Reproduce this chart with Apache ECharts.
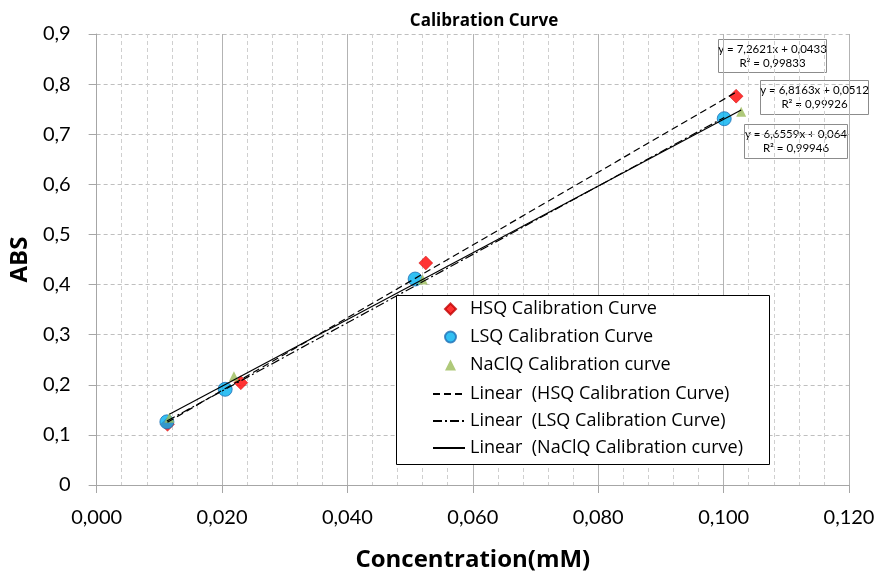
<!DOCTYPE html>
<html>
<head>
<meta charset="utf-8">
<script src="https://cdn.jsdelivr.net/npm/echarts@6/dist/echarts.min.js"></script>
<style>
  html, body { margin: 0; padding: 0; background: #fff; }
  #main { width: 882px; height: 577px; }
</style>
</head>
<body>
<div id="main"></div>
<script>
// data
const hsqX = [0.0113, 0.0230, 0.0525, 0.1020];
const hsqY = [0.121, 0.204, 0.443, 0.776];
const lsqX = [0.0112, 0.0205, 0.0508, 0.1001];
const lsqY = [0.126, 0.191, 0.411, 0.731];
const naclX = [0.0116, 0.0219, 0.0520, 0.1028];
const naclY = [0.134, 0.217, 0.410, 0.745];

// trendline equations (slope, intercept, R2 text) as printed on the chart
const hsqFit = [7.2621, 0.0433, "0,99833"];
const lsqFit = [6.8163, 0.0512, "0,99926"];
const naclFit = [6.6559, 0.064, "0,99946"];

const pointNames = ["HSQ Calibration Curve", "LSQ Calibration Curve", "NaClQ Calibration curve"];
const lineNames = ["Linear  (HSQ Calibration Curve)", "Linear  (LSQ Calibration Curve)", "Linear  (NaClQ Calibration curve)"];

const font = "'Open Sans', Lato, sans-serif";
const small = "Lato, 'Noto Sans', sans-serif";

function pairs(xs, ys) {
  return xs.map(function (x, i) { return [x, ys[i]]; });
}
// trendline from first to last x of the series
function trend(xs, fit) {
  const a = Math.min.apply(null, xs), b = Math.max.apply(null, xs);
  return [[a, fit[0] * a + fit[1]], [b, fit[0] * b + fit[1]]];
}
function comma(v, d) {
  return v.toFixed(d).replace(".", ",");
}
function eqText(fit) {
  return "y = " + comma(fit[0], 4) + "x + " + String(fit[1]).replace(".", ",") + "\nR² = " + fit[2];
}
function eqBox(left, top, w, h, fit) {
  return {
    type: "group", left: left, top: top, z: 100,
    children: [
      { type: "rect", shape: { x: 0, y: 0, width: w, height: h },
        style: { fill: "#fff", stroke: "#8c8c8c", lineWidth: 1 } },
      { type: "text", x: w / 2, y: 3,
        style: { text: eqText(fit), fill: "#000", font: "11.5px " + small, align: "center", lineHeight: 14 } }
    ]
  };
}

const chart = echarts.init(document.getElementById("main"));
const option = {
  backgroundColor: "#fff",
  animation: false,
  title: {
    text: "Calibration Curve", left: 479, top: 8, textAlign: "center",
    textStyle: { fontFamily: font, fontSize: 17, fontWeight: "bold", color: "#000" }
  },
  grid: { left: 96, right: 33, top: 34, bottom: 87 },
  legend: [
    {
      orient: "vertical", left: 444, top: 299, padding: 0, z: 20,
      itemGap: 8, itemWidth: 11, itemHeight: 11,
      textStyle: { fontFamily: font, fontSize: 18, color: "#000", lineHeight: 20, padding: [0, 0, 0, 9] },
      data: pointNames
    },
    {
      orient: "vertical", left: 432, top: 384, padding: 0, z: 20,
      itemGap: 7, itemWidth: 32, itemHeight: 14,
      textStyle: { fontFamily: font, fontSize: 18, color: "#000", lineHeight: 20 },
      data: lineNames.map(function (n) { return { name: n, itemStyle: { opacity: 0 } }; })
    }
  ],
  xAxis: {
    type: "value", min: 0, max: 0.12, interval: 0.02,
    name: "Concentration(mM)", nameLocation: "middle", nameGap: 63,
    nameTextStyle: { fontFamily: font, fontSize: 24, fontWeight: "bold", color: "#000" },
    axisLine: { onZero: false, lineStyle: { color: "#a6a6a6" } },
    axisTick: { show: true, length: 8, lineStyle: { color: "#a6a6a6" } },
    axisLabel: { fontFamily: small, fontSize: 20, color: "#000", margin: 23,
      formatter: function (v) { return comma(v, 3); } },
    splitLine: { show: true, lineStyle: { color: "#b3b3b3", type: "solid" } },
    minorTick: { show: false, splitNumber: 5 },
    minorSplitLine: { show: true, lineStyle: { color: "#cfcfcf", type: [4, 3] } }
  },
  yAxis: {
    type: "value", min: 0, max: 0.9, interval: 0.1,
    name: "ABS", nameLocation: "middle", nameGap: 54,
    nameTextStyle: { fontFamily: font, fontSize: 24, fontWeight: "bold", color: "#000" },
    axisLine: { show: true, lineStyle: { color: "#a6a6a6" } },
    axisTick: { show: true, length: 8, lineStyle: { color: "#a6a6a6" } },
    axisLabel: { fontFamily: small, fontSize: 20, color: "#000", margin: 26,
      formatter: function (v) { return v === 0 ? "0" : comma(v, 1); } },
    splitLine: { show: true, lineStyle: { color: "#bfbfbf", type: [4, 3] } }
  },
  series: [
    { name: pointNames[0], type: "scatter", data: pairs(hsqX, hsqY), z: 5,
      symbol: "diamond", symbolSize: 14,
      itemStyle: { color: "#ff0000", borderColor: "#c00000", borderWidth: 0.5 } },
    { name: pointNames[1], type: "scatter", data: pairs(lsqX, lsqY), z: 6,
      symbol: "circle", symbolSize: 14,
      itemStyle: { color: "#00b0f0", borderColor: "#1f6fb5", borderWidth: 1 } },
    { name: pointNames[2], type: "scatter", data: pairs(naclX, naclY), z: 7,
      symbol: "triangle", symbolSize: 10,
      itemStyle: { color: "#9bbb59" } },
    { name: lineNames[0], type: "line", data: trend(hsqX, hsqFit), z: 8,
      symbol: "none", lineStyle: { color: "#000", width: 1.2, type: [7, 4] }, itemStyle: { color: "#000" } },
    { name: lineNames[1], type: "line", data: trend(lsqX, lsqFit), z: 8,
      symbol: "none", lineStyle: { color: "#000", width: 1.2, type: [9, 3, 2, 3] }, itemStyle: { color: "#000" } },
    { name: lineNames[2], type: "line", data: trend(naclX, naclFit), z: 8,
      symbol: "none", lineStyle: { color: "#000", width: 1.2, type: "solid" }, itemStyle: { color: "#000" } }
  ],
  graphic: [
    { type: "rect", left: 396, top: 295, z: 10,
      shape: { width: 373, height: 169 },
      style: { fill: "#fff", stroke: "#000", lineWidth: 1 } },
    eqBox(718, 39, 108, 33, hsqFit),
    eqBox(760, 80, 108, 34, lsqFit),
    eqBox(744, 124, 103, 34, naclFit)
  ]
};
chart.setOption(option);
</script>
</body>
</html>
